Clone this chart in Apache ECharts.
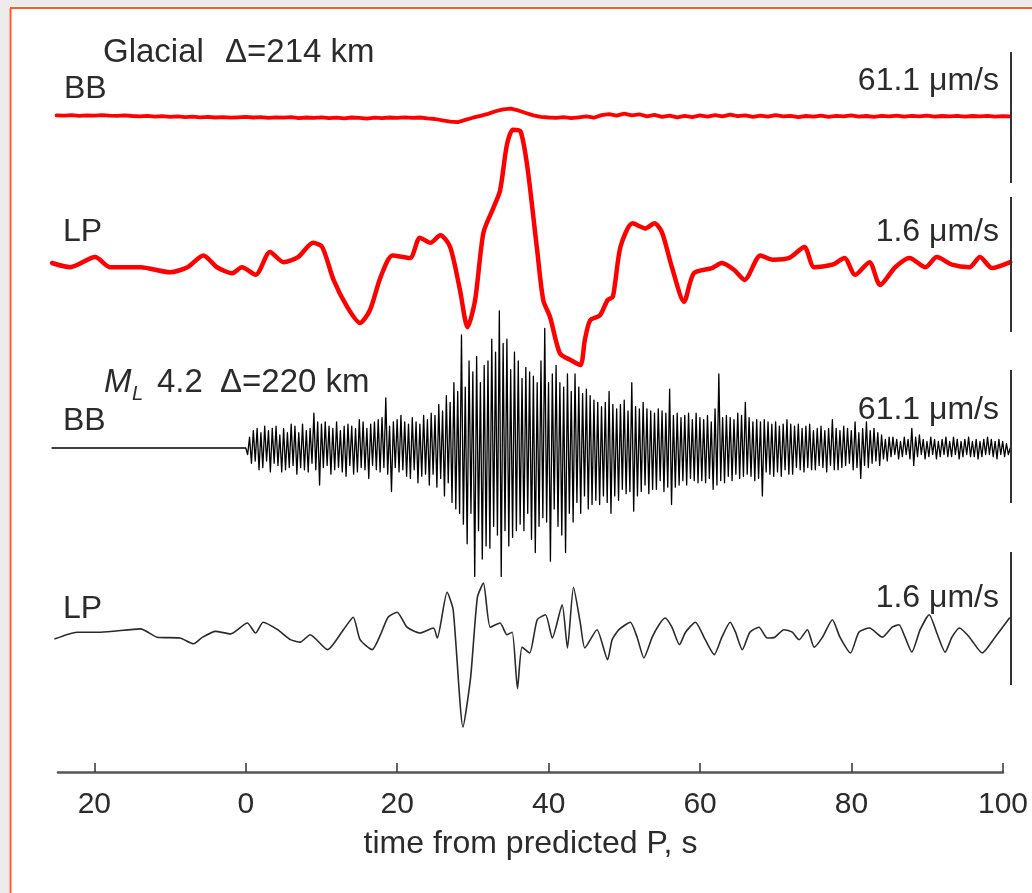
<!DOCTYPE html>
<html><head><meta charset="utf-8">
<script src="https://cdn.jsdelivr.net/npm/echarts@6/dist/echarts.min.js"></script>
<style>html,body{margin:0;padding:0;background:#fff}#c{width:1032px;height:893px}</style>
</head><body><div id="c"></div>
<script>
// ---------------- data ----------------
const xTicks = [-20, 0, 20, 40, 60, 80, 100];
const xTickLabels = ['20', '0', '20', '40', '60', '80', '100'];
const axisTitle = 'time from predicted P, s';
const scaleBB = 61.1;   // μm/s per scale bar
const scaleLP = 1.6;    // μm/s per scale bar

// Glacial event, broadband (μm/s), one sample per second from -25 s
const glacialBBStart = -25, glacialBBStep = 1;
const glacialBBVal = [0.3,0.2,0.4,0.1,0.3,0.2,0.4,0.2,0.1,0.3,0.0,-0.2,0.1,-0.3,-0.1,-0.4,-0.2,-0.5,-0.3,-0.6,-0.4,-0.7,-0.5,-0.8,-0.6,
  -0.4,-0.7,-0.5,-0.9,-0.6,-0.8,-0.5,-1.0,-0.7,-0.9,-0.6,-1.0,-0.8,-1.1,-0.7,-0.9,-1.2,-0.8,-1.0,-0.7,-0.9,-0.6,-0.9,-0.7,-1.1,
  -1.4,-2.0,-2.6,-2.9,-1.8,-0.8,0.1,1.0,2.2,3.1,3.4,2.6,1.4,0.3,-0.4,-0.7,
  -0.9,-0.5,-1.0,-0.6,-0.2,-0.8,0.4,0.9,0.2,1.1,0.3,0.8,-0.2,0.5,-0.4,0.2,-0.6,0.1,-0.5,0.3,-0.3,0.4,-0.2,0.6,-0.1,0.3,-0.4,0.2,-0.3,0.4,
  -0.2,0.1,-0.5,0.0,-0.3,0.2,-0.4,0.1,-0.2,0.3,-0.3,0.0,-0.4,0.1,-0.2,0.2,-0.3,0.1,-0.2,0.2,-0.3,0.0,-0.2,0.1,-0.3,0.0,-0.2,0.1,-0.3,-0.1,-0.2];

// Glacial event, long period (μm/s)
const glacialLPTime = [-25.6,-23.2,-19.9,-17.9,-13.9,-10.0,-7.7,-5.6,-3.8,-1.8,-0.5,1.3,3.2,5.0,6.9,8.9,10.1,11.6,13.4,15.1,16.4,17.8,19.4,21.7,23.0,24.4,25.7,27.0,28.3,29.3,30.3,31.4,32.7,33.6,34.5,35.3,36.3,37.2,38.5,39.3,40.2,41.5,42.9,44.2,44.8,45.5,46.8,47.8,48.5,49.5,51.1,52.8,54.0,55.0,56.3,57.9,59.2,61.6,62.9,64.5,65.9,68.0,69.6,71.8,73.8,75.1,77.5,79.1,80.5,82.4,83.8,85.8,87.7,89.8,91.3,93.3,95.6,97.0,98.6,101.0];
const glacialLPVal = [0,-0.05,0.07,-0.05,-0.05,-0.11,-0.05,0.09,-0.05,-0.12,-0.05,-0.14,0.13,0.01,0.07,0.24,0.19,-0.20,-0.52,-0.71,-0.56,-0.17,0.09,0.06,0.30,0.24,0.33,0.19,-0.32,-0.76,-0.44,0.36,0.65,0.86,1.40,1.58,1.56,1.14,0.15,-0.44,-0.64,-1.07,-1.15,-1.21,-0.91,-0.68,-0.62,-0.44,-0.40,0.19,0.47,0.41,0.47,0.36,-0.05,-0.46,-0.12,-0.06,0,-0.08,-0.20,0.09,0.04,0.06,0.19,-0.05,-0.02,0.06,-0.14,0.01,-0.26,-0.05,0.06,-0.05,0.07,-0.02,-0.05,0.07,-0.06,0.01];

// ML 4.2 earthquake, broadband (μm/s): quiet before P, then one sample every 0.25 s from 0 s
const quakeBBQuietStart = -25.6;
const quakeBBStart = 0, quakeBBStep = 0.25;
const quakeBBVal = [
  0,-3,5,-7,8,-6,9,-10,         7,-9,10,-6,8,-11,9,-7,
  10,-8,6,-11,9,-10,7,-9,       11,-8,10,-12,7,-9,11,-10,
  8,-11,9,-7,16,-10,12,-17,     11,-9,12,-8,10,-12,9,-10,
  12,-9,8,-11,10,-13,11,-8,     10,-12,9,-11,13,-9,12,-10,
  9,-14,11,-8,12,-10,13,-11,    14,-9,23,-12,10,-20,12,-9,
  13,-11,15,-10,12,-13,11,-14,  14,-10,12,-16,11,-13,15,-12,
  13,-17,16,-12,15,-18,20,-14,  17,-22,24,-16,21,-25,30,-28,
  26,-30,52,-35,28,-44,40,-30,  35,-59,42,-38,30,-51,38,-45,
  40,-46,50,-36,44,-40,63,-59,  48,-38,50,-45,36,-41,44,-38,
  40,-35,32,-38,37,-30,35,-42,  33,-48,30,-36,40,-32,55,-34,
  30,-52,34,-28,38,-36,30,-40,  28,-48,34,-30,26,-34,34,-25,
  28,-30,25,-22,27,-28,24,-26,  22,-24,21,-26,19,-22,21,-25,
  26,-30,20,-22,18,-24,20,-19,  22,-21,17,-20,30,-29,19,-22,
  18,-20,21,-17,18,-21,17,-19,  16,-19,18,-15,17,-20,16,-18,
  27,-26,15,-18,16,-17,14,-15,  15,-17,16,-14,13,-15,16,-16,
  14,-15,13,-16,15,-14,12,-19,  18,-17,34,-15,14,-16,15,-13,
  14,-15,13,-12,16,-14,15,-13,  21,-12,14,-13,12,-15,13,-14,
  12,-22,13,-11,12,-12,11,-13,  12,-11,10,-13,11,-10,13,-12,
  11,-12,10,-9,11,-10,9,-11,    10,-9,11,-10,8,-10,9,-8,
  10,-9,8,-11,9,-8,13,-10,      9,-10,8,-9,10,-8,9,-7,
  8,-10,12,-9,7,-14,9,-8,       12,-9,8,-7,9,-6,7,-8,
  6,-5,4,-6,5,-4,5,-3,          4,-5,3,-4,5,-3,4,-5,
  9,-8,5,-4,6,-3,4,-5,          3,-4,5,-3,4,-5,3,-4,
  4,-3,5,-4,3,-4,5,-3,          4,-5,3,-4,4,-3,5,-4,
  3,-4,4,-5,3,-4,4,-3,          5,-3,4,-4,3,-5,4,-3,
  3,-4,2,-3,0];

// ML 4.2 earthquake, long period (μm/s)
const quakeLPTime = [-25.2,-22.3,-19.2,-13.9,-11.7,-8.7,-6.9,-5.7,-4.0,-2.0,0.2,1.3,2.3,4.2,5.9,7.2,8.5,10.8,12.9,14.2,15.1,16.7,17.8,18.8,20.0,21.3,23.0,24.8,25.3,26.6,27.4,28.7,29.7,30.6,31.4,32.3,33.6,34.5,35.2,35.9,36.5,37.5,38.5,39.6,40.5,41.8,42.5,43.3,44.2,44.8,46.4,47.8,
  48.4,49.3,50.8,51.7,52.6,53.7,54.6,55.4,56.3,57.3,58.1,59.4,60.7,61.9,62.9,64.0,64.7,65.6,66.6,67.8,68.9,69.9,71.1,72.2,73.1,74.2,75.1,76.2,77.5,78.5,79.9,81.0,82.4,84.1,85.4,86.3,87.1,88.0,89.1,90.3,91.3,92.4,93.3,94.3,95.6,97.3,99.0,100.9];
const quakeLPVal = [-0.01,0.07,0.07,0.11,0.01,0,-0.07,0.01,0.08,0.05,0.18,0.06,0.19,0.10,-0.02,-0.05,0.04,-0.14,0.10,0.25,-0.02,-0.14,0.04,0.25,0.31,0.13,0.06,0.12,0,0.55,0.34,-1.07,-0.48,0.49,0.66,0.13,0.18,0.04,0.07,-0.61,-0.11,-0.18,0.22,0.28,0,0.40,-0.12,0.61,0.18,-0.12,0.10,-0.26,
  -0.02,0.10,0.19,0.01,-0.24,0.01,0.16,0.24,0.13,-0.08,0.07,0.19,-0.02,-0.20,0.01,0.19,0.07,-0.14,0.07,0.13,0,0.01,0.10,0.07,-0.02,0.10,-0.11,0.01,0.22,0.01,-0.18,0.07,0.12,0.01,0.13,0.16,0.01,-0.17,0.10,0.28,0.06,-0.17,0.01,0.12,0.01,-0.18,0.01,0.24];

// ---------------- build ----------------
const FONT = '"Liberation Sans", Arial, Helvetica, sans-serif';
const TXT = '#2b2b2b';
const X_MIN = -25.6, X_MAX = 101.1;

function sampled(start, step, vals) { return vals.map((v, i) => [start + i * step, v]); }
function paired(ts, vs) { return ts.map((t, i) => [t, vs[i]]); }

const glacialBB = sampled(glacialBBStart, glacialBBStep, glacialBBVal);
const glacialLP = paired(glacialLPTime, glacialLPVal);
const quakeBB = [[quakeBBQuietStart, 0]].concat(sampled(quakeBBStart, quakeBBStep, quakeBBVal));
const quakeLP = paired(quakeLPTime, quakeLPVal);

// layout per trace (pixels): baseline, scale-bar top/bottom
const traces = [
  { data: glacialBB, scale: scaleBB, base: 116, barTop: 52,  barBot: 183, color: '#ff0000', width: 3.8, smooth: false, z: 3 },
  { data: glacialLP, scale: scaleLP, base: 263, barTop: 197, barBot: 332, color: '#ff0000', width: 4.5, smooth: 0.25, z: 4 },
  { data: quakeBB,   scale: scaleBB, base: 448, barTop: 370, barBot: 503, color: '#000000', width: 1.3, smooth: false, z: 2 },
  { data: quakeLP,   scale: scaleLP, base: 638, barTop: 552, barBot: 685, color: '#2a2a2a', width: 1.6, smooth: 0.2, z: 2 }
];

const grid = [], xAxis = [], yAxis = [], series = [];
traces.forEach((tr, i) => {
  const h = tr.barBot - tr.barTop;
  const ppu = h / tr.scale;
  const yMax = (tr.base - tr.barTop) / ppu;
  const yMin = -(tr.barBot - tr.base) / ppu;
  grid.push({ left: 52, right: 21, top: tr.barTop, height: h });
  xAxis.push({ type: 'value', gridIndex: i, min: X_MIN, max: X_MAX, show: false });
  yAxis.push({ type: 'value', gridIndex: i, min: yMin, max: yMax, show: false });
  series.push({
    type: 'line', xAxisIndex: i, yAxisIndex: i, data: tr.data, symbol: 'none', showSymbol: false,
    clip: false, smooth: tr.smooth, silent: true, z: tr.z,
    lineStyle: { color: tr.color, width: tr.width, join: 'round', cap: 'round' }
  });
  // scale bar: one bar = tr.scale μm/s
  series.push({
    type: 'line', xAxisIndex: i, yAxisIndex: i, data: [[X_MAX, yMin], [X_MAX, yMax]], symbol: 'none',
    clip: false, silent: true, z: 5, lineStyle: { color: '#333', width: 2 }
  });
});

// bottom time axis
grid.push({ left: 58, right: 29, top: 700, height: 72 });
xAxis.push({
  type: 'value', gridIndex: 4, min: -24.8, max: 100, position: 'bottom',
  axisLine: { show: true, lineStyle: { color: '#555', width: 2.5 } },
  axisTick: { show: true, inside: true, length: 9, customValues: xTicks, lineStyle: { color: '#333', width: 1.5 } },
  axisLabel: { show: true, customValues: xTicks, margin: 18, fontSize: 30, fontFamily: FONT, color: TXT,
    formatter: v => { const k = xTicks.indexOf(v); return k >= 0 ? xTickLabels[k] : ''; } },
  splitLine: { show: false },
  name: axisTitle, nameLocation: 'middle', nameGap: 56,
  nameTextStyle: { fontSize: 32, fontFamily: FONT, color: TXT }
});
yAxis.push({ type: 'value', gridIndex: 4, show: false });

function txt(text, x, y, size, align, extra) {
  return Object.assign({ type: 'text', z: 10, style: Object.assign({
    text, x, y, font: size + 'px ' + FONT, fill: TXT, align: align || 'left', verticalAlign: 'middle'
  }, extra || {}) });
}

const graphic = [
  // page frame
  { type: 'rect', z: 0, shape: { x: 0, y: 0, width: 1032, height: 6 }, style: { fill: '#ececec' } },
  { type: 'rect', z: 0, shape: { x: 0, y: 0, width: 9, height: 893 }, style: { fill: '#ececec' } },
  { type: 'line', z: 1, shape: { x1: 10, y1: 8, x2: 1032, y2: 8 }, style: { stroke: '#ff5a26', lineWidth: 2 } },
  { type: 'line', z: 1, shape: { x1: 10.5, y1: 8, x2: 10.5, y2: 893 }, style: { stroke: '#ff5a26', lineWidth: 2 } },
  // labels
  txt('Glacial', 103, 53, 33),
  txt('\u0394=214 km', 225, 53, 33),
  txt('BB', 64, 89, 32),
  txt('LP', 63, 232, 32),
  txt('61.1 \u03bcm/s', 999, 81, 32, 'right'),
  txt('1.6 \u03bcm/s', 999, 232, 32, 'right'),
  txt('M', 104, 383, 33, 'left', { font: 'italic 33px ' + FONT }),
  txt('L', 132, 394, 20, 'left', { font: 'italic 20px ' + FONT }),
  txt('4.2', 157, 383, 33),
  txt('\u0394=220 km', 220, 383, 33),
  txt('BB', 63, 421, 32),
  txt('LP', 63, 609, 32),
  txt('61.1 \u03bcm/s', 999, 410, 32, 'right'),
  txt('1.6 \u03bcm/s', 999, 598, 32, 'right')
];

const chart = echarts.init(document.getElementById('c'), null, { renderer: 'canvas' });
chart.setOption({
  animation: false,
  backgroundColor: '#ffffff',
  grid, xAxis, yAxis, series, graphic
});
</script>
</body></html>
